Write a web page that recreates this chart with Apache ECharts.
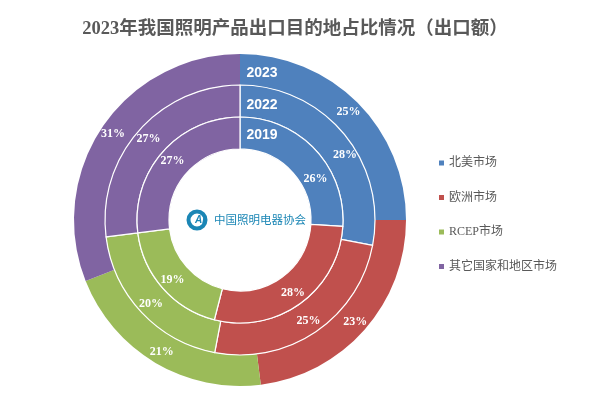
<!DOCTYPE html>
<html>
<head>
<meta charset="utf-8">
<script src="https://cdn.jsdelivr.net/npm/echarts@6/dist/echarts.min.js"></script>
<style>
html, body { margin: 0; padding: 0; background: #fff; }
#chart { width: 613px; height: 402px; }
</style>
</head>
<body>
<div id="chart"></div>
<script>
const chartDom = document.getElementById('chart');
const myChart = echarts.init(chartDom);

const fontFamily = '"Liberation Serif", "Noto Sans CJK SC", serif';
const names = ['北美市场', '欧洲市场', 'RCEP市场', '其它国家和地区市场'];
const colors = ['#4f81bd', '#c0504d', '#9bbb59', '#8064a2'];

// 每年的占比，从内圈到外圈
const rings = [
    { year: '2019', values: [26, 28, 19, 27], radius: [71, 103], offset: [10, 21], border: 1.2, z: 3 },
    { year: '2022', values: [28, 25, 20, 27], radius: [103, 135], offset: [11, 13], border: 1.2, z: 2 },
    { year: '2023', values: [25, 23, 21, 31], radius: [135, 166], offset: [0, 0], border: 0, z: 1 }
];

const series = rings.map(function (ring) {
    return {
        name: ring.year,
        type: 'pie',
        center: [240, 220],
        radius: ring.radius,
        startAngle: 90,
        clockwise: true,
        silent: true,
        animation: false,
        z: ring.z,
        itemStyle: { borderColor: '#fff', borderWidth: ring.border },
        label: {
            position: 'inside',
            formatter: '{c}%',
            color: '#fff',
            fontSize: 12,
            fontWeight: 'bold',
            fontFamily: fontFamily
        },
        labelLine: { show: false },
        data: ring.values.map(function (v, i) {
            const item = { name: names[i], value: v, itemStyle: { color: colors[i] } };
            if (i === 0) {
                item.label = { offset: ring.offset };
            }
            return item;
        })
    };
});

// 蓝色扇区上的年份
const yearLabels = [
    { text: '2023', y: 73 },
    { text: '2022', y: 105 },
    { text: '2019', y: 135 }
].map(function (d) {
    return {
        type: 'text',
        z: 100,
        x: 262,
        y: d.y,
        style: {
            text: d.text,
            fill: '#fff',
            font: 'bold 14px "Liberation Sans", sans-serif',
            align: 'center',
            verticalAlign: 'middle'
        }
    };
});

const option = {
    backgroundColor: '#fff',
    title: {
        text: '2023年我国照明产品出口目的地占比情况（出口额）',
        left: 290,
        top: 15,
        textAlign: 'center',
        textStyle: {
            color: '#595959',
            fontSize: 18.5,
            fontWeight: 'bold',
            fontFamily: fontFamily
        }
    },
    legend: {
        orient: 'vertical',
        left: 432,
        top: 152,
        itemWidth: 7,
        itemHeight: 7,
        itemGap: 22.5,
        icon: 'rect',
        selectedMode: false,
        data: names,
        textStyle: {
            color: '#595959',
            fontSize: 12,
            fontFamily: fontFamily,
            padding: [0, 0, 0, -1]
        }
    },
    series: series,
    graphic: yearLabels.concat([
        // 协会标志
        {
            type: 'circle',
            z: 100,
            shape: { cx: 197, cy: 220, r: 8.5 },
            style: { fill: '#fff', stroke: '#1b86b5', lineWidth: 4 }
        },
        {
            type: 'text',
            z: 100,
            x: 200,
            y: 220,
            style: {
                text: 'AI',
                fill: '#1b86b5',
                font: 'italic bold 10px "Liberation Sans", sans-serif',
                align: 'center',
                verticalAlign: 'middle'
            }
        },
        {
            type: 'text',
            z: 100,
            x: 214,
            y: 220,
            style: {
                text: '中国照明电器协会',
                fill: '#1b86b5',
                font: '11.5px "Noto Sans CJK SC", sans-serif',
                align: 'left',
                verticalAlign: 'middle'
            }
        }
    ])
};
myChart.setOption(option);
</script>
</body>
</html>
